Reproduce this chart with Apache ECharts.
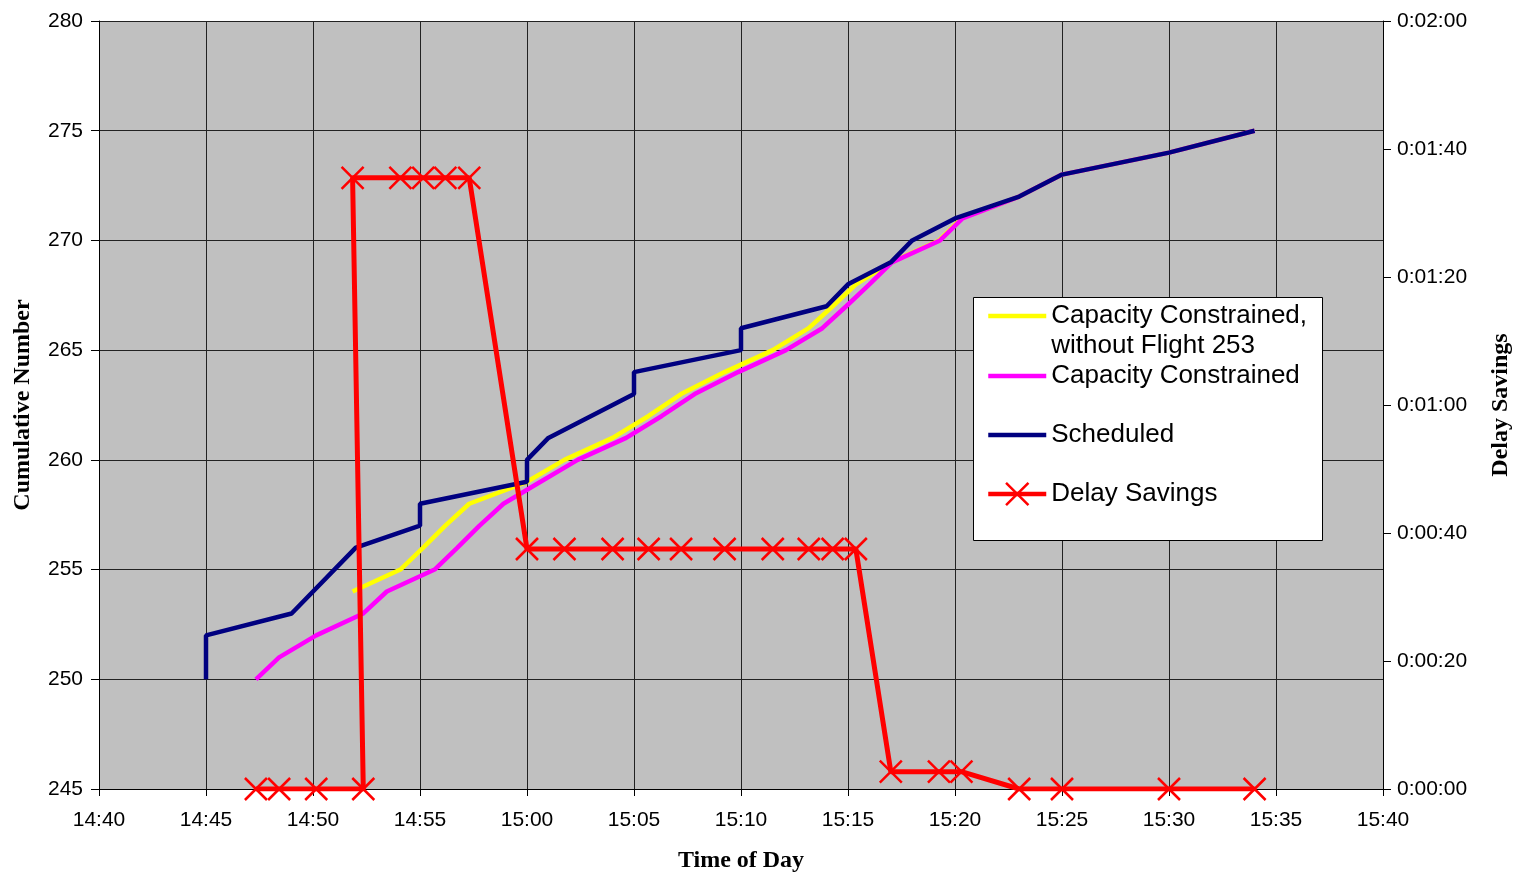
<!DOCTYPE html>
<html><head><meta charset="utf-8">
<script src="https://cdn.jsdelivr.net/npm/echarts/dist/echarts.min.js"></script>
<style>html,body{margin:0;padding:0;background:#fff}#c{width:1518px;height:873px}</style>
</head><body><div id="c"></div>
<script>
// ---- data ----
const xRange = ['14:40', '15:40'];           // time-of-day axis span, 5-minute ticks
const leftRange = [245, 280];                 // cumulative number axis
const rightRange = [0, 120];                  // delay savings axis, seconds

const schedTimes = ['14:45:00','14:45:00','14:49:00','14:52:00','14:55:00','14:55:00','15:00:00','15:00:00','15:01:00','15:05:00','15:05:00','15:10:00','15:10:00','15:14:00','15:15:00','15:17:00','15:18:00','15:20:00','15:23:00','15:25:00','15:30:00','15:34:00'];
const schedCounts = [250,252,253,256,257,258,259,260,261,263,264,265,266,267,268,269,270,271,272,273,274,275];

const noFlightTimes = ['14:51:51','14:54:05','14:55:09','14:56:11','14:57:18','15:00:00','15:01:45','15:04:00','15:05:41','15:07:12','15:09:14','15:11:29','15:13:10','15:14:17','15:15:22','15:17:00','15:19:15','15:20:18','15:23:00','15:25:00','15:30:00','15:34:00'];
const noFlightCounts = [254,255,256,257,258,259,260,261,262,263,264,265,266,267,268,269,270,271,272,273,274,275];

const capTimes = ['14:47:20','14:48:25','14:50:09','14:52:21','14:53:27','14:55:41','14:56:45','14:57:47','14:58:54','15:00:38','15:02:22','15:04:38','15:06:18','15:07:50','15:09:52','15:12:06','15:13:48','15:14:55','15:16:00','15:17:03','15:19:18','15:20:21','15:23:00','15:25:00','15:30:00','15:34:00'];
const capCounts = [250,251,252,253,254,255,256,257,258,259,260,261,262,263,264,265,266,267,268,269,270,271,272,273,274,275];

const savTimes = ['14:47:20','14:48:25','14:50:09','14:52:21','14:51:51','14:54:05','14:55:09','14:56:11','14:57:18','15:00:00','15:01:45','15:04:00','15:05:41','15:07:12','15:09:14','15:11:29','15:13:10','15:14:17','15:15:22','15:17:00','15:19:15','15:20:18','15:23:00','15:25:00','15:30:00','15:34:00'];
const savSeconds = [0,0,0,0,95.5,95.5,95.5,95.5,95.5,37.5,37.5,37.5,37.5,37.5,37.5,37.5,37.5,37.5,37.5,2.7,2.7,2.7,0,0,0,0];

const seriesNames = ['Capacity Constrained,\nwithout Flight 253', 'Capacity Constrained', 'Scheduled', 'Delay Savings'];

// ---- helpers ----
function toMin(t) { const p = t.split(':').map(Number); return p[0] * 60 + p[1] + (p[2] || 0) / 60; }
function pad(n) { return (n < 10 ? '0' : '') + n; }
function pairs(ts, vs) { return ts.map((t, i) => [toMin(t), vs[i]]); }

const chart = echarts.init(document.getElementById('c'), null, { renderer: 'canvas' });
const sans = 'Liberation Sans, Arial, sans-serif';
const serif = 'Liberation Serif, Times New Roman, serif';
const lineW = 4.5;
const redW = 5;
const hideDot = { opacity: 0 };

const option = {
  animation: false,
  backgroundColor: '#fff',
  grid: { left: 99, right: 135, top: 21, bottom: 84, show: true, backgroundColor: '#C0C0C0', borderWidth: 0, containLabel: false, outerBoundsMode: 'none' },
  legend: {
    orient: 'vertical', left: 986, top: 271, padding: 0, itemGap: 0,
    itemWidth: 58, itemHeight: 28,
    textStyle: { fontFamily: sans, fontSize: 26, lineHeight: 30, color: '#000' },
    lineStyle: { width: lineW },
    itemStyle: { borderWidth: 2.5 },
    selectedMode: false,
    // first entry: a blank leading line keeps the icon level with the first text line
    formatter: name => name === seriesNames[0] ? ' \n' + name : name,
    data: [
      { name: seriesNames[0], itemStyle: hideDot },
      { name: seriesNames[1], itemStyle: hideDot },
      { name: seriesNames[2], itemStyle: hideDot, textStyle: { padding: [29, 0, 29, 0] } },
      { name: seriesNames[3] }
    ],
    z: 10
  },
  graphic: [{
    type: 'rect', left: 973, top: 297, z: 9, silent: true,
    shape: { width: 349, height: 243 },
    style: { fill: '#fff', stroke: '#000', lineWidth: 1 }
  }],
  xAxis: {
    type: 'value', min: toMin(xRange[0]), max: toMin(xRange[1]), interval: 5,
    name: 'Time of Day', nameLocation: 'middle', nameGap: 60,
    nameTextStyle: { fontFamily: serif, fontWeight: 'bold', fontSize: 24, color: '#000' },
    axisLine: { lineStyle: { color: '#000', width: 1 } },
    axisTick: { show: true, length: 7, lineStyle: { color: '#000' } },
    axisLabel: { fontFamily: sans, fontSize: 21, color: '#000', margin: 21,
      formatter: v => Math.floor(v / 60) + ':' + pad(Math.round(v % 60)) },
    splitLine: { show: true, lineStyle: { color: '#222', width: 1 } }
  },
  yAxis: [{
    type: 'value', min: leftRange[0], max: leftRange[1], interval: 5, position: 'left',
    name: 'Cumulative Number', nameLocation: 'middle', nameGap: 64,
    nameTextStyle: { fontFamily: serif, fontWeight: 'bold', fontSize: 24, color: '#000' },
    axisLine: { show: true, lineStyle: { color: '#000', width: 1 } },
    axisTick: { show: true, length: 8, lineStyle: { color: '#000' } },
    axisLabel: { fontFamily: sans, fontSize: 21, color: '#000', margin: 16 },
    splitLine: { show: true, lineStyle: { color: '#222', width: 1 } }
  }, {
    type: 'value', min: rightRange[0], max: rightRange[1], interval: 20, position: 'right',
    name: 'Delay Savings', nameLocation: 'middle', nameGap: 106, nameRotate: 90,
    nameTextStyle: { fontFamily: serif, fontWeight: 'bold', fontSize: 24, color: '#000' },
    axisLine: { show: true, lineStyle: { color: '#000', width: 1 } },
    axisTick: { show: true, length: 8, lineStyle: { color: '#000' } },
    axisLabel: { fontFamily: sans, fontSize: 21, color: '#000', margin: 14,
      formatter: v => '0:' + pad(Math.floor(v / 60)) + ':' + pad(v % 60) },
    splitLine: { show: false }
  }],
  series: [
    { name: seriesNames[0], type: 'line', data: pairs(noFlightTimes, noFlightCounts), symbol: 'none',
      lineStyle: { color: '#FFFF00', width: lineW }, itemStyle: { color: '#FFFF00' }, emphasis: { disabled: true }, z: 2 },
    { name: seriesNames[1], type: 'line', data: pairs(capTimes, capCounts), symbol: 'none',
      lineStyle: { color: '#FF00FF', width: lineW }, itemStyle: { color: '#FF00FF' }, emphasis: { disabled: true }, z: 3 },
    { name: seriesNames[2], type: 'line', data: pairs(schedTimes, schedCounts), symbol: 'none',
      lineStyle: { color: '#000080', width: lineW }, itemStyle: { color: '#000080' }, emphasis: { disabled: true }, z: 4 },
    { name: seriesNames[3], type: 'line', yAxisIndex: 1, data: pairs(savTimes, savSeconds),
      symbol: 'path://M0,0L10,10M0,10L10,0', symbolSize: 22, showSymbol: true, showAllSymbol: true,
      lineStyle: { color: '#FF0000', width: redW },
      itemStyle: { color: '#FF0000', borderColor: '#FF0000', borderWidth: 2.5 },
      emphasis: { disabled: true }, z: 5 }
  ]
};
chart.setOption(option);
</script>
</body></html>
